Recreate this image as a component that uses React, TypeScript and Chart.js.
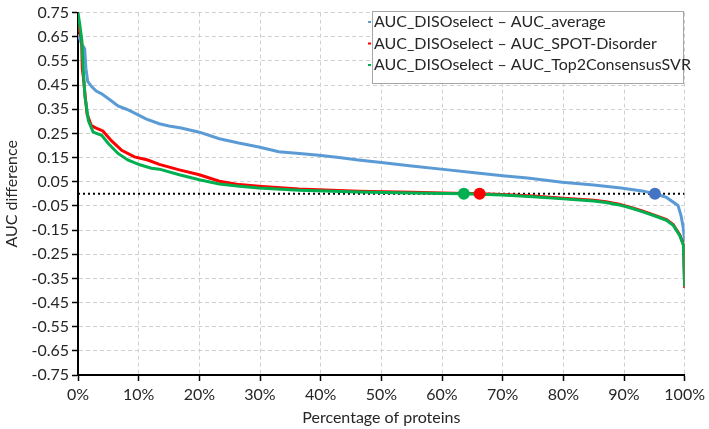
import React, { useEffect, useRef } from "react";
import { Chart, registerables } from "chart.js";
Chart.register(...registerables);

const FONT = "Lato, 'Noto Sans', sans-serif";

const seriesLabels = [
  "AUC_DISOselect \u2013 AUC_average",
  "AUC_DISOselect \u2013 AUC_SPOT-Disorder",
  "AUC_DISOselect \u2013 AUC_Top2ConsensusSVR",
];
const seriesColors = ["#5b9bd5", "#ff0000", "#00b050"];

const yTickValues = [0.75, 0.65, 0.55, 0.45, 0.35, 0.25, 0.15, 0.05, -0.05, -0.15, -0.25, -0.35, -0.45, -0.55, -0.65, -0.75];

const blueX = [0, 0.6, 1.1, 1.3, 1.6, 2.2, 3.0, 3.9, 5.2, 6.6, 8, 9.1, 11.2, 13.4, 15, 17, 20, 23.3, 26.5, 29.8, 33.1, 36.5, 39.7, 43, 46.2, 50, 55, 61, 65, 70, 74.1, 79.8, 85, 89.5, 93, 95.1, 97, 98.9, 99.4, 99.8, 100];
const blueY = [0.66, 0.62, 0.6, 0.52, 0.465, 0.445, 0.425, 0.414, 0.39, 0.364, 0.35, 0.337, 0.31, 0.29, 0.281, 0.272, 0.255, 0.228, 0.21, 0.194, 0.174, 0.167, 0.16, 0.15, 0.14, 0.13, 0.115, 0.099, 0.088, 0.075, 0.065, 0.048, 0.036, 0.024, 0.012, 0.0, -0.015, -0.048, -0.09, -0.146, -0.2];

const redX = [0, 0.4, 0.6, 0.7, 0.9, 1.2, 1.5, 2.2, 3, 4.1, 5.5, 7.2, 9.3, 11.5, 13.4, 16.7, 20, 23.3, 26.6, 29.8, 36.4, 46.2, 55, 60, 66.2, 70, 75, 80, 85, 87, 89, 91, 93, 95, 97, 98.1, 99.2, 99.8, 100];
const redY = [0.7, 0.66, 0.64, 0.52, 0.48, 0.4, 0.33, 0.282, 0.272, 0.26, 0.22, 0.18, 0.153, 0.14, 0.122, 0.099, 0.079, 0.052, 0.038, 0.031, 0.02, 0.011, 0.006, 0.003, 0.0, -0.003, -0.009, -0.018, -0.027, -0.033, -0.042, -0.055, -0.071, -0.088, -0.107, -0.127, -0.17, -0.21, -0.39];

const greenX = [0, 0.3, 0.6, 0.9, 1.15, 1.4, 1.7, 2.5, 3.9, 5, 6.6, 8.2, 10.2, 12.1, 13.4, 16.7, 20, 23.3, 26.6, 29.8, 36.4, 46.2, 55, 63.6, 70, 75, 80, 85, 87, 89, 91, 93, 95, 97, 98.1, 99.2, 99.8, 100];
const greenY = [0.75, 0.7, 0.64, 0.5, 0.4, 0.36, 0.303, 0.255, 0.242, 0.208, 0.167, 0.14, 0.12, 0.106, 0.102, 0.079, 0.058, 0.041, 0.031, 0.024, 0.015, 0.007, 0.003, 0.0, -0.005, -0.012, -0.021, -0.03, -0.036, -0.045, -0.058, -0.074, -0.091, -0.11, -0.13, -0.173, -0.214, -0.385];

const zeroLineX = [0, 100];
const zeroLineY = [0, 0];

const markerX = [95.1, 66.2, 63.6];
const markerY = [0, 0, 0];
const markerColors = ["#4472c4", "#ff0000", "#00b050"];

const toPts = (xs: number[], ys: number[]) => xs.map((x, i) => ({ x, y: ys[i] }));

const legendPlugin = {
  id: "boxLegend",
  afterDraw(chart: any) {
    const ctx = chart.ctx;
    ctx.save();
    const bx = 372, by = 11, bw = 311, bh = 72;
    ctx.fillStyle = "#ffffff";
    ctx.fillRect(bx, by, bw, bh);
    ctx.strokeStyle = "#a6a6a6";
    ctx.lineWidth = 1;
    ctx.strokeRect(bx + 0.5, by + 0.5, bw, bh);
    ctx.font = `16px ${FONT}`;
    ctx.textBaseline = "middle";
    ctx.textAlign = "left";
    seriesLabels.forEach((lab, i) => {
      const y = 22 + i * 21.5;
      ctx.strokeStyle = seriesColors[i];
      ctx.lineWidth = 2;
      ctx.beginPath();
      ctx.moveTo(368, y);
      ctx.lineTo(371, y);
      ctx.stroke();
      ctx.fillStyle = "#262626";
      ctx.fillText(lab, 374, y);
    });
    ctx.restore();
  },
};

const gridCfg = {
  color: "#d0d0d0",
  lineWidth: 1,
  drawOnChartArea: true,
  tickColor: "#000000",
  tickLength: 6,
  tickWidth: 1.5,
  tickBorderDash: [],
};

export default function App() {
  const ref = useRef<HTMLCanvasElement>(null);
  useEffect(() => {
    if (!ref.current) return;
    const chart = new Chart(ref.current, {
      type: "line",
      data: {
        datasets: [
          {
            label: "markers",
            data: toPts(markerX, markerY),
            showLine: false,
            pointRadius: 6,
            pointHoverRadius: 6,
            pointBackgroundColor: markerColors,
            pointBorderWidth: 0,
            borderColor: "transparent",
            order: 0,
          },
          {
            label: seriesLabels[2],
            data: toPts(greenX, greenY),
            borderColor: seriesColors[2],
            borderWidth: 3,
            pointRadius: 0,
            tension: 0,
            order: 1,
          },
          {
            label: seriesLabels[1],
            data: toPts(redX, redY),
            borderColor: seriesColors[1],
            borderWidth: 3,
            pointRadius: 0,
            tension: 0,
            order: 2,
          },
          {
            label: seriesLabels[0],
            data: toPts(blueX, blueY),
            borderColor: seriesColors[0],
            borderWidth: 3,
            pointRadius: 0,
            tension: 0,
            order: 3,
          },
          {
            label: "zero",
            data: toPts(zeroLineX, zeroLineY),
            borderColor: "#000000",
            borderWidth: 2,
            borderDash: [2, 3],
            pointRadius: 0,
            order: 4,
          },
        ],
      },
      options: {
        responsive: false,
        animation: false,
        layout: { padding: { top: 7, right: 21, left: 0, bottom: 0 } },
        plugins: {
          legend: { display: false },
          tooltip: { enabled: false },
        },
        scales: {
          x: {
            type: "linear",
            min: 0,
            max: 100,
            ticks: {
              stepSize: 10,
              callback: (v: any) => `${v}%`,
              font: { family: FONT, size: 16 },
              color: "#262626",
              padding: 4,
              maxRotation: 0,
            },
            grid: gridCfg,
            border: { color: "#000000", width: 2, dash: [4, 3] },
            title: {
              display: true,
              text: "Percentage of proteins",
              font: { family: FONT, size: 16 },
              color: "#262626",
              padding: { top: 0, bottom: 2 },
            },
            afterFit: (s: any) => {
              s.height = 54;
            },
          },
          y: {
            type: "linear",
            min: -0.75,
            max: 0.75,
            afterBuildTicks: (s: any) => {
              s.ticks = yTickValues.map((v) => ({ value: v }));
            },
            ticks: {
              callback: (v: any) => Number(v).toFixed(2),
              font: { family: FONT, size: 16 },
              color: "#262626",
              padding: 3,
            },
            grid: gridCfg,
            border: { color: "#000000", width: 2, dash: [4, 3] },
            title: {
              display: true,
              text: "AUC difference",
              font: { family: FONT, size: 16 },
              color: "#262626",
              padding: { top: 2, bottom: 0 },
            },
            afterFit: (s: any) => {
              s.width = 78;
            },
          },
        },
      },
      plugins: [legendPlugin],
    });
    return () => chart.destroy();
  }, []);
  return (
    <div style={{ position: "absolute", left: 0, top: 0, width: 709, height: 429 }}>
      <canvas ref={ref} width={709} height={429} />
    </div>
  );
}
